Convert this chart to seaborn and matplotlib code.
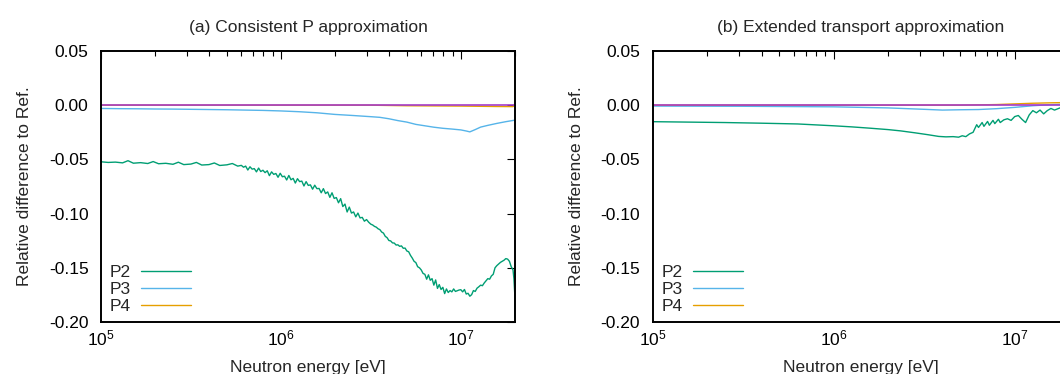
import numpy as np
import pandas as pd
import matplotlib
matplotlib.use("Agg")
import matplotlib.pyplot as plt
import seaborn as sns
from matplotlib.ticker import LogLocator, LogFormatterSciNotation, FormatStrFormatter, NullFormatter

# ---------------- data (log10 of neutron energy in eV, relative difference) ----------------
a_p2_log = [5.00, 5.04, 5.08, 5.12, 5.15, 5.18, 5.22, 5.26, 5.29, 5.32, 5.36, 5.40, 5.43, 5.46, 5.50,
            5.53, 5.56, 5.60, 5.63, 5.66, 5.70, 5.73, 5.76,
            5.780, 5.792, 5.804, 5.816, 5.828, 5.840, 5.852, 5.864, 5.876, 5.888, 5.900, 5.912, 5.924,
            5.936, 5.948, 5.960, 5.972, 5.984, 5.996, 6.008, 6.020, 6.032, 6.044, 6.056, 6.068, 6.080,
            6.092, 6.104, 6.116, 6.128, 6.140, 6.152, 6.164, 6.176, 6.188, 6.200, 6.212, 6.224, 6.236,
            6.248, 6.260, 6.272, 6.284, 6.296, 6.308, 6.320, 6.332, 6.344, 6.356, 6.368, 6.380, 6.392,
            6.404, 6.416, 6.428, 6.440, 6.452, 6.464, 6.476, 6.488, 6.500,
            6.51, 6.52, 6.53, 6.54, 6.55, 6.56, 6.57, 6.58, 6.59, 6.60, 6.61, 6.62, 6.63, 6.64, 6.65,
            6.66, 6.67, 6.68, 6.69, 6.70, 6.71, 6.72,
            6.73, 6.74, 6.75, 6.76, 6.77, 6.78, 6.79, 6.80, 6.81, 6.82, 6.83, 6.84, 6.85, 6.86, 6.87,
            6.88, 6.89, 6.90, 6.91, 6.92, 6.93, 6.94, 6.95, 6.96, 6.97, 6.98, 6.99, 7.00, 7.01, 7.02,
            7.03, 7.04, 7.05, 7.06, 7.07, 7.08, 7.09, 7.10, 7.11, 7.12, 7.13, 7.14, 7.15, 7.16, 7.17,
            7.18, 7.19, 7.20, 7.21, 7.22, 7.23, 7.24, 7.25, 7.26, 7.27, 7.28, 7.29, 7.295, 7.30, 7.301]
a_p2_val = [-0.0522, -0.0528, -0.0525, -0.0532, -0.0512, -0.0535, -0.0530, -0.0538, -0.0520, -0.0540,
            -0.0536, -0.0545, -0.0526, -0.0548, -0.0543, -0.0528, -0.0552, -0.0548, -0.0533, -0.0556,
            -0.0550, -0.0538, -0.0562,
            -0.0555, -0.0572, -0.0562, -0.0598, -0.0568, -0.0590, -0.0585, -0.0615, -0.0580, -0.0612,
            -0.0600, -0.0622, -0.0605, -0.0650, -0.0615, -0.0638, -0.0630, -0.0665, -0.0628, -0.0660,
            -0.0655, -0.0690, -0.0648, -0.0688, -0.0675, -0.0718, -0.0678, -0.0705, -0.0700, -0.0745,
            -0.0705, -0.0740, -0.0735, -0.0775, -0.0738, -0.0770, -0.0768, -0.0808, -0.0770, -0.0815,
            -0.0800, -0.0850, -0.0808, -0.0860, -0.0852, -0.0900, -0.0862, -0.0935, -0.0912, -0.0985,
            -0.0940, -0.0995, -0.0985, -0.1030, -0.0995, -0.1040, -0.1035, -0.1070, -0.1055, -0.1080,
            -0.1098,
            -0.1105, -0.1118, -0.1125, -0.1140, -0.1148, -0.1170, -0.1180, -0.1210, -0.1222, -0.1248,
            -0.1252, -0.1270, -0.1272, -0.1290, -0.1288, -0.1302, -0.1298, -0.1320, -0.1318, -0.1345,
            -0.1352, -0.1385,
            -0.1410, -0.1440, -0.1452, -0.1490, -0.1500, -0.1520, -0.1552, -0.1560, -0.1605, -0.1565,
            -0.1615, -0.1600, -0.1660, -0.1612, -0.1690, -0.1655, -0.1700, -0.1680, -0.1738, -0.1695,
            -0.1728, -0.1710, -0.1722, -0.1695, -0.1718, -0.1712, -0.1705, -0.1702, -0.1722, -0.1700,
            -0.1742, -0.1735, -0.1762, -0.1748, -0.1710, -0.1718, -0.1688, -0.1675, -0.1660, -0.1665,
            -0.1640, -0.1620, -0.1600, -0.1605, -0.1575, -0.1560, -0.1500, -0.1480, -0.1465, -0.1450,
            -0.1440, -0.1430, -0.1415, -0.1420, -0.1440, -0.1490, -0.1520, -0.1600, -0.1750, -0.1960]

a_p3_log = [5.00, 5.10, 5.20, 5.30, 5.40, 5.50, 5.60, 5.70, 5.80, 5.90, 6.00, 6.10, 6.20, 6.30, 6.40,
            6.50, 6.55, 6.60, 6.65, 6.70, 6.75, 6.80, 6.85, 6.90, 6.95, 7.00, 7.03, 7.05, 7.08, 7.11,
            7.15, 7.20, 7.25, 7.30]
a_p3_val = [-0.0030, -0.0032, -0.0033, -0.0035, -0.0036, -0.0038, -0.0040, -0.0042, -0.0045, -0.0048,
            -0.0053, -0.0060, -0.0070, -0.0085, -0.0095, -0.0106, -0.0112, -0.0125, -0.0142, -0.0156,
            -0.0177, -0.0190, -0.0203, -0.0213, -0.0220, -0.0228, -0.0238, -0.0246, -0.0225, -0.0202,
            -0.0186, -0.0168, -0.0152, -0.0138]

a_p4_log = [5.00, 6.50, 6.70, 7.00, 7.20, 7.29, 7.299, 7.301]
a_p4_val = [0.0000, 0.0000, -0.0005, -0.0008, -0.0012, -0.0013, 0.0000, 0.0150]

b_p2_log = [5.00, 5.20, 5.40, 5.60, 5.80, 6.00, 6.10, 6.20, 6.30, 6.37, 6.45, 6.52, 6.58, 6.62, 6.66,
            6.69, 6.71, 6.73, 6.75, 6.77, 6.79, 6.80, 6.82, 6.83, 6.85, 6.86, 6.88, 6.89, 6.91, 6.92,
            6.94, 6.96, 6.98, 7.00, 7.02, 7.04, 7.06, 7.08, 7.10, 7.12, 7.14, 7.16, 7.18, 7.20, 7.22,
            7.25, 7.28, 7.30]
b_p2_val = [-0.0152, -0.0156, -0.0160, -0.0166, -0.0173, -0.0190, -0.0200, -0.0212, -0.0225, -0.0237,
            -0.0255, -0.0272, -0.0288, -0.0292, -0.0290, -0.0295, -0.0282, -0.0290, -0.0265, -0.0250,
            -0.0180, -0.0205, -0.0160, -0.0195, -0.0150, -0.0185, -0.0140, -0.0170, -0.0130, -0.0160,
            -0.0135, -0.0125, -0.0140, -0.0105, -0.0095, -0.0130, -0.0160, -0.0090, -0.0050, -0.0070,
            -0.0045, -0.0080, -0.0050, -0.0030, -0.0045, -0.0025, -0.0015, -0.0005]

b_p3_log = [5.00, 5.50, 6.00, 6.30, 6.50, 6.60, 6.70, 6.80, 6.90, 7.00, 7.10, 7.20, 7.30]
b_p3_val = [-0.0008, -0.0010, -0.0015, -0.0025, -0.0038, -0.0045, -0.0042, -0.0040, -0.0032, -0.0020,
            -0.0005, 0.0005, 0.0010]

b_p4_log = [5.00, 6.70, 6.90, 7.00, 7.10, 7.20, 7.30]
b_p4_val = [0.0000, 0.0000, 0.0006, 0.0012, 0.0018, 0.0022, 0.0025]

ref_log = [5.00, 7.301]
ref_val = [0.0, 0.0]

titles = ["(a) Consistent P approximation", "(b) Extended transport approximation"]
series_names = ["P2", "P3", "P4"]
colors = {"P2": "#009e73", "P3": "#56b4e9", "P4": "#e69f00"}
ref_color = "#a43cc8"

ytick_vals = [0.05, 0.00, -0.05, -0.10, -0.15, -0.20]

panels = [
    {"P2": (a_p2_log, a_p2_val), "P3": (a_p3_log, a_p3_val), "P4": (a_p4_log, a_p4_val)},
    {"P2": (b_p2_log, b_p2_val), "P3": (b_p3_log, b_p3_val), "P4": (b_p4_log, b_p4_val)},
]

# ---------------- style ----------------
sns.set_theme(style="white")
plt.rcParams["font.family"] = ["Liberation Sans", "DejaVu Sans"]
plt.rcParams["mathtext.fontset"] = "custom"
plt.rcParams["mathtext.rm"] = "Liberation Sans"
plt.rcParams["mathtext.it"] = "Liberation Sans:italic"
plt.rcParams["axes.unicode_minus"] = False
FS = 12.5

fig = plt.figure(figsize=(10.60, 3.74), dpi=100)
W, H = 1060.0, 374.0
ax_boxes = [(101, 51, 414, 271), (652.7, 51, 416.5, 271)]

for i, (box, panel) in enumerate(zip(ax_boxes, panels)):
    x0, ytop, w, h = box
    ax = fig.add_axes([x0 / W, (H - ytop - h) / H, w / W, h / H])
    handles = []
    for name in series_names:
        lg, vals = panel[name]
        df = pd.DataFrame({"E": [10 ** v for v in lg], "diff": vals})
        sns.lineplot(data=df, x="E", y="diff", ax=ax, color=colors[name], lw=1.0,
                     estimator=None, sort=False, legend=False)
        handles.append(ax.lines[-1])
    dfr = pd.DataFrame({"E": [10 ** v for v in ref_log], "diff": ref_val})
    sns.lineplot(data=dfr, x="E", y="diff", ax=ax, color=ref_color, lw=1.2,
                 estimator=None, sort=False, legend=False)

    ax.set_xscale("log")
    ax.set_xlim(1e5, 2e7)
    ax.set_ylim(-0.20, 0.05)
    ax.set_yticks(ytick_vals)
    ax.yaxis.set_major_formatter(FormatStrFormatter("%.2f"))
    ax.xaxis.set_major_locator(LogLocator(base=10, numticks=10))
    ax.xaxis.set_minor_locator(LogLocator(base=10, subs=np.arange(2, 10), numticks=20))
    ax.xaxis.set_major_formatter(LogFormatterSciNotation())
    ax.xaxis.set_minor_formatter(NullFormatter())
    ax.tick_params(axis="both", which="both", direction="in", top=True, right=True,
                   colors="black", labelsize=FS, width=0.8)
    ax.tick_params(axis="both", which="major", length=6)
    ax.tick_params(axis="both", which="minor", length=3.5)
    ax.tick_params(axis="y", pad=9)
    ax.tick_params(axis="x", pad=5)
    for sp in ax.spines.values():
        sp.set_color("black")
        sp.set_linewidth(1.4)
    ax.set_xlabel("Neutron energy [eV]", fontsize=FS, labelpad=8)
    ax.set_ylabel("Relative difference to Ref.", fontsize=FS, labelpad=12)
    ax.set_title(titles[i], fontsize=FS, pad=14)
    ax.legend(handles=handles, labels=series_names, loc="lower left",
              bbox_to_anchor=(0.022, 0.03), frameon=False, markerfirst=False,
              fontsize=FS, handlelength=2.9, handletextpad=0.57, labelspacing=0.1,
              borderpad=0, borderaxespad=0)
    ax.grid(False)

fig.savefig("out.png", dpi=100)
